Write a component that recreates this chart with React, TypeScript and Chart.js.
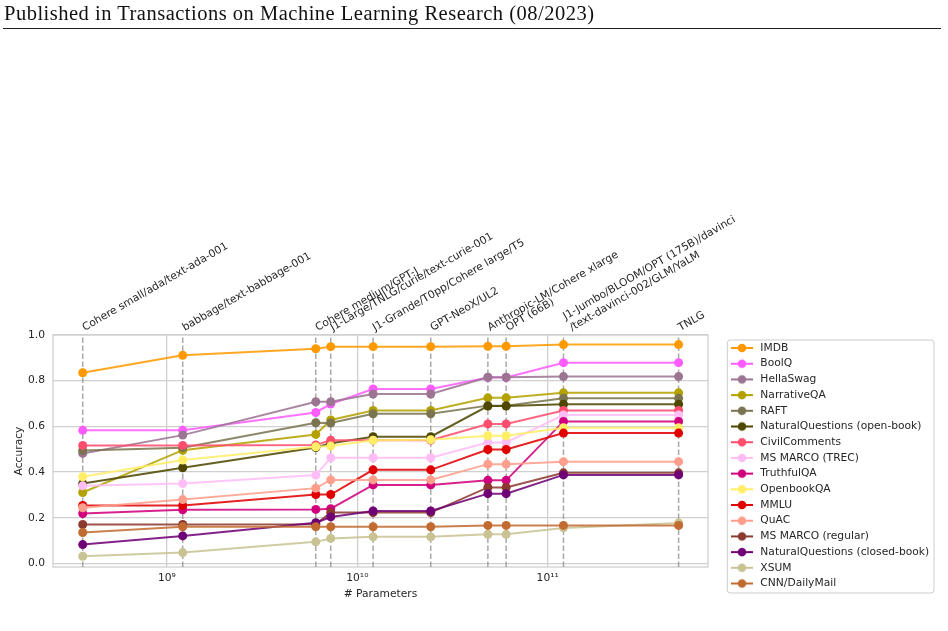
import React, { useEffect, useRef } from "react";
import { Chart, registerables } from "chart.js";

Chart.register(...registerables);

// ---- data ----
const paramCounts = [3.61e8, 1.21e9, 6.05e9, 7.25e9, 1.21e10, 2.43e10, 4.85e10, 6.05e10, 1.21e11, 4.87e11];
const modelLabels: string[][] = [
  ["Cohere small/ada/text-ada-001"],
  ["babbage/text-babbage-001"],
  ["Cohere medium/GPT-J"],
  ["J1-Large/TNLG/curie/text-curie-001"],
  ["J1-Grande/T0pp/Cohere large/T5"],
  ["GPT-NeoX/UL2"],
  ["Anthropic-LM/Cohere xlarge"],
  ["OPT (66B)"],
  ["J1-Jumbo/BLOOM/OPT (175B)/davinci", "/text-davinci-002/GLM/YaLM"],
  ["TNLG"],
];

const seriesNames = [
  "IMDB", "BoolQ", "HellaSwag", "NarrativeQA", "RAFT", "NaturalQuestions (open-book)",
  "CivilComments", "MS MARCO (TREC)", "TruthfulQA", "OpenbookQA", "MMLU", "QuAC",
  "MS MARCO (regular)", "NaturalQuestions (closed-book)", "XSUM", "CNN/DailyMail",
];
const seriesColors = [
  "#ff9900", "#ff5cff", "#9b7592", "#b3a100", "#7a7450", "#4d4700",
  "#ff4d6d", "#ffbdf6", "#d1007d", "#ffee66", "#e00000", "#ff9e8c",
  "#8b3a30", "#700075", "#c9c394", "#c26b30",
];

const imdb = [0.835, 0.911, 0.940, 0.949, 0.949, 0.949, 0.951, 0.951, 0.958, 0.958];
const boolq = [0.583, 0.583, 0.661, 0.698, 0.764, 0.764, 0.814, 0.814, 0.879, 0.879];
const hellaswag = [0.482, 0.562, 0.708, 0.708, 0.742, 0.742, 0.815, 0.815, 0.818, 0.818];
const narrativeqa = [0.311, 0.496, 0.565, 0.628, 0.670, 0.670, 0.725, 0.725, 0.747, 0.747];
const raft = [0.495, 0.507, 0.616, 0.615, 0.655, 0.655, 0.691, 0.691, 0.723, 0.723];
const nqOpen = [0.350, 0.419, 0.508, 0.526, 0.555, 0.555, 0.689, 0.689, 0.697, 0.697];
const civilComments = [0.517, 0.517, 0.519, 0.540, 0.540, 0.540, 0.611, 0.611, 0.670, 0.670];
const msmarcoTrec = [0.340, 0.350, 0.387, 0.463, 0.463, 0.463, 0.530, 0.530, 0.650, 0.650];
const truthfulqa = [0.219, 0.235, 0.237, 0.240, 0.344, 0.344, 0.364, 0.364, 0.622, 0.622];
const openbookqa = [0.380, 0.453, 0.511, 0.514, 0.540, 0.542, 0.559, 0.559, 0.594, 0.594];
const mmlu = [0.254, 0.254, 0.302, 0.302, 0.410, 0.410, 0.499, 0.499, 0.571, 0.571];
const quac = [0.244, 0.280, 0.330, 0.366, 0.366, 0.366, 0.435, 0.435, 0.446, 0.446];
const msmarcoRegular = [0.171, 0.171, 0.172, 0.223, 0.223, 0.223, 0.333, 0.333, 0.397, 0.397];
const nqClosed = [0.083, 0.121, 0.179, 0.204, 0.230, 0.230, 0.306, 0.306, 0.388, 0.388];
const xsum = [0.032, 0.048, 0.095, 0.110, 0.117, 0.117, 0.128, 0.128, 0.156, 0.178];
const cnnDailyMail = [0.136, 0.161, 0.161, 0.161, 0.161, 0.161, 0.167, 0.167, 0.167, 0.167];

const seriesValues = [
  imdb, boolq, hellaswag, narrativeqa, raft, nqOpen, civilComments, msmarcoTrec,
  truthfulqa, openbookqa, mmlu, quac, msmarcoRegular, nqClosed, xsum, cnnDailyMail,
];

const xTickValues = [1e9, 1e10, 1e11];
const xTickLabels = ["10⁹", "10¹⁰", "10¹¹"];
const yTickValues = [0, 0.2, 0.4, 0.6, 0.8, 1.0];
const yTickLabels = ["0.0", "0.2", "0.4", "0.6", "0.8", "1.0"];

const X_MIN = 2.52e8;
const X_MAX = 6.95e11;
const Y_MIN = -0.015;
const Y_MAX = 1.0;

const FONT = '"DejaVu Sans", sans-serif';
const FS = 10.7;
const TXT = "#262626";
const GRID = "#d0d0d0";

export default function App() {
  const ref = useRef<HTMLCanvasElement>(null);

  useEffect(() => {
    const canvas = ref.current!;

    const icons = seriesColors.map((c) => {
      const cv = document.createElement("canvas");
      cv.width = 24;
      cv.height = 12;
      const g = cv.getContext("2d")!;
      g.strokeStyle = c;
      g.lineWidth = 2;
      g.beginPath();
      g.moveTo(1, 6);
      g.lineTo(23, 6);
      g.stroke();
      g.fillStyle = c;
      g.beginPath();
      g.arc(12, 6, 4.3, 0, Math.PI * 2);
      g.fill();
      return cv;
    });

    const mctx = document.createElement("canvas").getContext("2d")!;
    mctx.font = `${FS}px ${FONT}`;
    const maxW = Math.max(...seriesNames.map((n) => mctx.measureText(n).width));
    const LEG_PAD = 5;
    const BOX_W = 26;
    const legendWidth = LEG_PAD + BOX_W + FS / 2 + maxW + 10;
    const legendLeft = 724;
    const plotRight = 708;
    const padRight = 948 - legendLeft - legendWidth;

    const datasets = seriesNames.map((name, i) => ({
      label: name,
      data: paramCounts.map((p, j) => ({ x: p, y: seriesValues[i][j] })),
      borderColor: seriesColors[i] + "dd",
      backgroundColor: seriesColors[i],
      pointBackgroundColor: seriesColors[i],
      pointBorderColor: seriesColors[i],
      pointBorderWidth: 0,
      pointRadius: 4.5,
      borderWidth: 2,
      tension: 0,
      fill: false,
      order: seriesNames.length - i,
    }));

    const modelPlugin = {
      id: "models",
      beforeDatasetsDraw(chart: any) {
        const { ctx, chartArea, scales } = chart;
        ctx.save();
        ctx.strokeStyle = GRID;
        ctx.lineWidth = 1.3;
        ctx.strokeRect(chartArea.left, chartArea.top, chartArea.right - chartArea.left, chartArea.bottom - chartArea.top);
        ctx.strokeStyle = "rgba(140,140,140,0.75)";
        ctx.lineWidth = 1.5;
        ctx.setLineDash([5.5, 2.5]);
        for (const p of paramCounts) {
          const x = scales.x.getPixelForValue(p);
          ctx.beginPath();
          ctx.moveTo(x, chartArea.bottom);
          ctx.lineTo(x, chartArea.top);
          ctx.stroke();
        }
        ctx.restore();
      },
      afterDraw(chart: any) {
        const { ctx, chartArea, scales } = chart;
        ctx.save();
        ctx.font = `${FS}px ${FONT}`;
        ctx.fillStyle = TXT;
        ctx.textAlign = "left";
        ctx.textBaseline = "alphabetic";
        modelLabels.forEach((lines, k) => {
          const x = scales.x.getPixelForValue(paramCounts[k]);
          const n = lines.length;
          ctx.save();
          ctx.translate(x + 2 + (n - 1) * 6.5, chartArea.top - 4);
          ctx.rotate(-Math.PI / 6);
          lines.forEach((ln, i) => {
            ctx.fillText(ln, 0, -(n - 1 - i) * 13);
          });
          ctx.restore();
        });
        const lg = chart.legend;
        if (lg) {
          const bx = lg.left + 3.3;
          const by = lg.top + 5;
          const bw = 934 - bx;
          const bh = 253;
          ctx.strokeStyle = "#cccccc";
          ctx.lineWidth = 1;
          ctx.beginPath();
          if ((ctx as any).roundRect) (ctx as any).roundRect(bx, by, bw, bh, 3);
          else ctx.rect(bx, by, bw, bh);
          ctx.stroke();
        }
        ctx.restore();
      },
    };

    const chart = new Chart(canvas, {
      type: "line",
      data: { datasets } as any,
      options: {
        animation: false,
        responsive: false,
        devicePixelRatio: 1,
        layout: { padding: { top: 335, left: 0, right: padRight, bottom: 30.4 } },
        scales: {
          x: {
            type: "logarithmic",
            position: "bottom",
            min: X_MIN,
            max: X_MAX,
            afterBuildTicks: (s: any) => {
              s.ticks = xTickValues.map((v) => ({ value: v }));
            },
            afterFit: (s: any) => {
              s.height = 33.6;
            },
            grid: { color: GRID, lineWidth: 1.3, drawTicks: false },
            border: { display: false },
            ticks: {
              callback: (_v: any, i: number) => xTickLabels[i],
              color: TXT,
              font: { family: FONT, size: FS },
              padding: 4.5,
              maxRotation: 0,
              minRotation: 0,
              autoSkip: false,
            },
            title: {
              display: true,
              text: "# Parameters",
              color: TXT,
              font: { family: FONT, size: FS },
              padding: { top: 0, bottom: 0 },
            },
          },
          y: {
            type: "linear",
            position: "left",
            min: Y_MIN,
            max: Y_MAX,
            afterBuildTicks: (s: any) => {
              s.ticks = yTickValues.map((v) => ({ value: v }));
            },
            afterFit: (s: any) => {
              s.width = 53;
            },
            grid: { color: GRID, lineWidth: 1.3, drawTicks: false },
            border: { display: false },
            ticks: {
              callback: (_v: any, i: number) => yTickLabels[i],
              color: TXT,
              font: { family: FONT, size: FS },
              padding: 8,
            },
            title: {
              display: true,
              text: "Accuracy",
              color: TXT,
              font: { family: FONT, size: FS },
              padding: { top: 12.6, bottom: 0 },
            },
          },
          gap: {
            type: "linear",
            position: "right",
            display: true,
            grid: { display: false, drawTicks: false },
            border: { display: false },
            ticks: { display: false },
            afterFit: (s: any) => {
              s.width = legendLeft - plotRight;
            },
          },
        } as any,
        plugins: {
          tooltip: { enabled: false },
          legend: {
            position: "right",
            align: "start",
            maxWidth: 400,
            title: {
              display: true,
              text: "",
              font: { size: 1, lineHeight: 1 },
              padding: { top: 1.65, bottom: 0 },
            },
            labels: {
              usePointStyle: true,
              pointStyleWidth: BOX_W,
              padding: LEG_PAD,
              color: TXT,
              font: { family: FONT, size: FS },
              generateLabels: () =>
                seriesNames.map((name, i) => ({
                  text: name,
                  fillStyle: seriesColors[i],
                  strokeStyle: seriesColors[i],
                  lineWidth: 0,
                  pointStyle: icons[i],
                  hidden: false,
                  datasetIndex: i,
                  fontColor: TXT,
                })) as any,
            },
          } as any,
        },
      },
      plugins: [modelPlugin],
    });

    return () => chart.destroy();
  }, []);

  return (
    <div style={{ position: "absolute", left: 0, top: 0, width: 948, height: 631, background: "#fff" }}>
      <canvas ref={ref} width={948} height={631} style={{ position: "absolute", left: 0, top: 0, width: 948, height: 631 }} />
      <div
        style={{
          position: "absolute",
          left: 4,
          top: 3,
          fontFamily: '"Liberation Serif", serif',
          fontSize: 20.5,
          lineHeight: "20px",
          letterSpacing: 0.5,
          color: "#111",
          whiteSpace: "nowrap",
        }}
      >
        Published in Transactions on Machine Learning Research (08/2023)
      </div>
      <div style={{ position: "absolute", left: 3, top: 28, width: 938, height: 0, borderTop: "1.2px solid #222" }} />
    </div>
  );
}
